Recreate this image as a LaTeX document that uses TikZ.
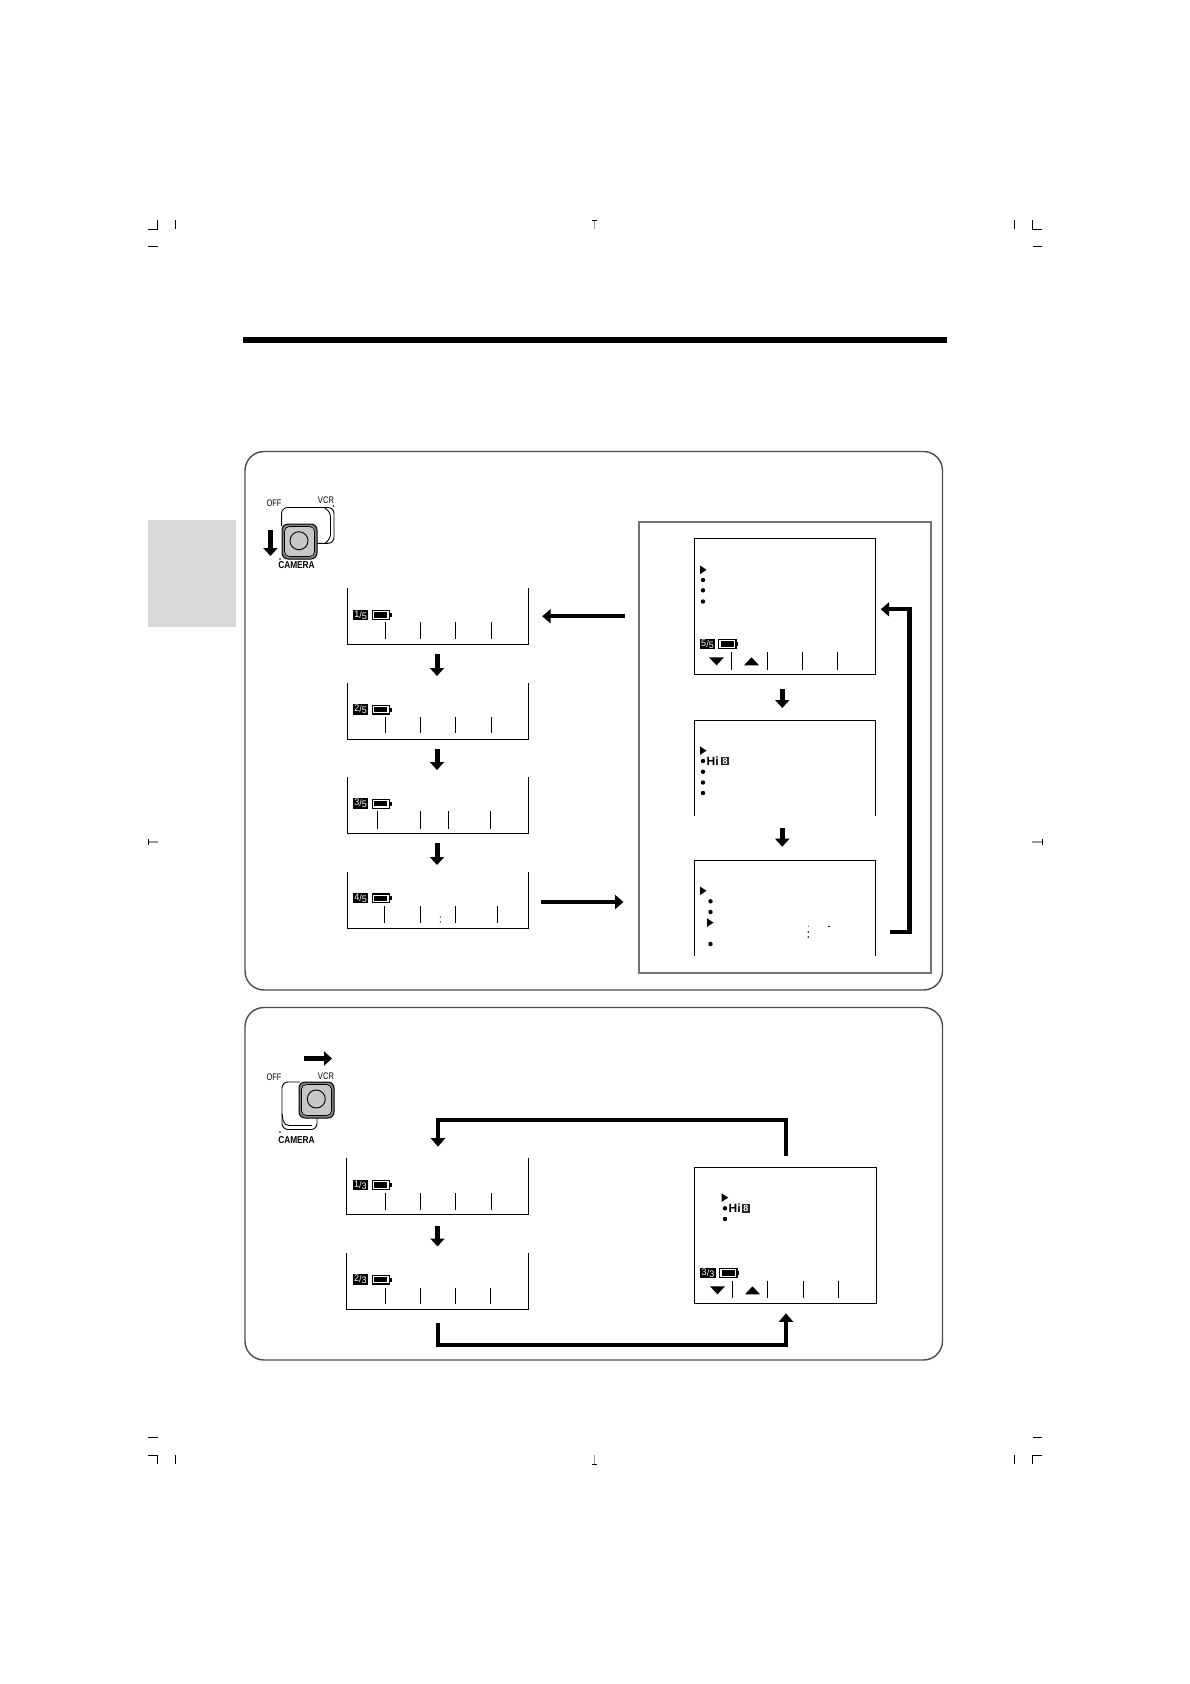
\documentclass[tikz,border=0pt]{standalone}
\usepackage{graphicx}
\usepackage{fontspec}
\setmainfont{Liberation Sans}
\usetikzlibrary{arrows.meta,calc}
\tikzset{
  cropline/.style={line width=1.1pt,black},
  cropgray/.style={line width=1.1pt,black!40},
  panel/.style={draw=black!70,line width=1.4pt,rounded corners=19pt},
  scr/.style={inner sep=0pt,outer sep=0pt,minimum width=#1},
  frameline/.style={line width=1.2pt,black},
  divider/.style={line width=1.1pt,black},
  shortarrow/.style={line width=5pt,-{Triangle[width=14pt,length=8pt]}},
  midarrow/.style={line width=4pt,-{Triangle[width=14pt,length=8.5pt]}},
  looparrow/.style={line width=4.2pt,-{Triangle[width=14pt,length=8.5pt]}},
  badge/.style={fill=black,text=white,inner sep=0pt,minimum width=15.5pt,minimum height=10.5pt,font=\fontsize{9.5}{10}\selectfont},
  switchtext/.style={inner sep=0pt,font=\fontsize{9.5}{10}\selectfont},
  camtext/.style={inner sep=0pt,font=\fontsize{10}{10}\selectfont\bfseries},
  hitext/.style={inner sep=0pt,anchor=west,font=\fontsize{12}{12}\selectfont\bfseries},
  eightbox/.style={fill=black!85,text=white,inner sep=0pt,minimum width=8.5pt,minimum height=8.5pt,anchor=west,font=\fontsize{9}{9}\selectfont\bfseries},
  switchline/.style={line width=.9pt,black},
}
\newcommand{\batt}[2]{%
  \fill[black] (#1,#2) rectangle ++(18.5,10);
  \fill[white] (#1+1.3,#2+1.3) rectangle ++(15.9,7.4);
  \fill[black] (#1+2.6,#2+2.4) rectangle ++(13.3,5.2);
  \fill[black] (#1+18.5,#2+3) rectangle ++(1.6,4);}
\newcommand{\frc}[2]{\scalebox{.95}[1]{\raisebox{1pt}{#1}/\raisebox{-1pt}{#2}}}
\newcommand{\cnd}[2]{\scalebox{#1}[1]{#2}}
\newcommand{\bullt}[2]{\fill[black] (#1,#2) circle (2.2);}
\newcommand{\tright}[2]{\fill[black] (#1,#2) -- ++(6.5,4.3) -- ++(-6.5,4.3) -- cycle;}
\newcommand{\tdown}[2]{\fill[black] (#1,#2) -- ++(15,0) -- ++(-7.5,8) -- cycle;}
\newcommand{\tup}[2]{\fill[black] (#1,#2) -- ++(15,0) -- ++(-7.5,-8) -- cycle;}
\begin{document}
\begin{tikzpicture}[x=1pt,y=-1pt]
\useasboundingbox (0,0) rectangle (1190,1684);
\fill[white] (0,0) rectangle (1190,1684);

% crop marks
\draw[cropline] (148,229.5) -- (157.5,229.5) -- (157.5,220);
\draw[cropline] (175.5,220) -- (175.5,229);
\draw[cropline] (148,246.5) -- (158,246.5);
\draw[cropline] (1042,229.5) -- (1032.5,229.5) -- (1032.5,220);
\draw[cropline] (1014.5,220) -- (1014.5,229);
\draw[cropline] (1033,246.5) -- (1042,246.5);
\draw[cropline] (148,1437.5) -- (158,1437.5);
\draw[cropline] (148,1455.5) -- (157.5,1455.5) -- (157.5,1464);
\draw[cropline] (175.5,1455) -- (175.5,1464);
\draw[cropline] (1033,1437.5) -- (1042,1437.5);
\draw[cropline] (1042,1455.5) -- (1032.5,1455.5) -- (1032.5,1464);
\draw[cropline] (1014.5,1455) -- (1014.5,1464);
\draw[cropgray] (594.5,220) -- (594.5,229);
\draw[cropline,line width=.7pt] (592,220) -- (597,220);
\draw[cropgray] (594.5,1455) -- (594.5,1464);
\draw[cropline,line width=.7pt] (592,1464) -- (597,1464);
\draw[cropgray] (148.5,842) -- (158,842);
\draw[cropline,line width=.7pt] (148.5,839) -- (148.5,845);
\draw[cropgray] (1032,842) -- (1042,842);
\draw[cropline,line width=.7pt] (1042,839) -- (1042,845);

% title rule and side tab
\fill[black] (243,336.5) rectangle (947,343);
\fill[black!15] (148,520) rectangle (236,627);

% panels
\draw[panel] (245,451.5) rectangle (942.5,990);
\draw[panel] (245,1007.5) rectangle (942.5,1360);
\node[draw=black!55,line width=2pt,inner sep=0pt,minimum width=292.5pt,minimum height=450.5pt] (rbox) at (784.75,747.5) {};

% left column screens, top panel
\node[scr=181pt,minimum height=56.5pt] (s1) at (438,616.25) {};
\node[scr=181pt,minimum height=56.5pt] (s2) at (438,711.25) {};
\node[scr=181pt,minimum height=56.5pt] (s3) at (438,805.25) {};
\node[scr=181pt,minimum height=56.5pt] (s4) at (438,900.25) {};
\foreach \n in {s1,s2,s3,s4}
  \draw[frameline] (\n.north west) -- (\n.south west) -- (\n.south east) -- (\n.north east);
\foreach \d in {385.5,420.5,455.5,491.5} \draw[divider] (\d,622) -- (\d,638.7);
\foreach \d in {385.5,420.5,455.5,491.5} \draw[divider] (\d,716.5) -- (\d,733.3);
\foreach \d in {377.5,420.5,448.5,490.5} \draw[divider] (\d,811) -- (\d,829);
\foreach \d in {384.5,420.5,455.5,497.5} \draw[divider] (\d,906) -- (\d,923);
\node[badge] (b1) at (360.7,614.8) {\frc{1}{5}};
\node[badge] (b2) at (360.7,709.3) {\frc{2}{5}};
\node[badge] (b3) at (360.7,803.6) {\frc{3}{5}};
\node[badge] (b4) at (360.7,898) {\frc{4}{5}};
\batt{371.5}{610}
\batt{371.5}{704.5}
\batt{371.5}{798.8}
\batt{371.5}{893.2}
\fill[black] (440.3,917) circle (.7) (440.3,922) circle (.7);

% short arrows
\draw[shortarrow] ($(s1.south)+(-1,9.7)$) -- ($(s2.north)+(-1,-7)$);
\draw[shortarrow] ($(s2.south)+(-1,9.7)$) -- ($(s3.north)+(-1,-7)$);
\draw[shortarrow] ($(s3.south)+(-1,9.7)$) -- ($(s4.north)+(-1,-7)$);

% right column screens
\node[scr=181pt,minimum height=136pt] (r1) at (785,606.5) {};
\node[scr=181pt,minimum height=95pt] (r2) at (785,768) {};
\node[scr=181pt,minimum height=95.5pt] (r3) at (785,908.25) {};
\draw[frameline] (r1.north west) rectangle (r1.south east);
\draw[frameline] (r2.south west) -- (r2.north west) -- (r2.north east) -- (r2.south east);
\draw[frameline] (r3.south west) -- (r3.north west) -- (r3.north east) -- (r3.south east);
\foreach \d in {731.5,767.5,802.5,837.5} \draw[divider] (\d,652) -- (\d,670);
\node[badge] (b5) at (707.5,643.8) {\frc{5}{5}};
\batt{718}{639}
\tdown{709}{657.3}
\tup{744}{665.3}
\tright{700}{565.5}
\bullt{703}{580}
\bullt{703}{590.3}
\bullt{703}{601.5}
\tright{700}{746.3}
\bullt{703}{761}
\bullt{703}{771.7}
\bullt{703}{782.5}
\bullt{703}{793}
\node[hitext] (hi1) at (706.5,761) {Hi};
\node[eightbox] (e1) at (720.7,761) {8};
\tright{700}{886.5}
\bullt{710.5}{901.3}
\bullt{710.5}{912}
\tright{707}{918.3}
\bullt{710.5}{944}
\fill[black] (808.3,926.2) circle (.5) (808.3,932) circle (.9) (808.3,937) circle (.9);
\fill[black] (827.5,925.6) rectangle (830,926.6);

\draw[shortarrow] ($(r1.south)+(-2.7,14.5)$) -- ($(r2.north)+(-2.7,-12.5)$);
\draw[shortarrow] ($(r2.south)+(-2.7,12.5)$) -- ($(r3.north)+(-2.7,-13.8)$);

% horizontal arrows, top panel
\draw[midarrow,shorten <=12.5pt,shorten >=13.7pt] (rbox.west |- s1.east) -- (s1.east);
\coordinate (s4out) at ($(s4.east)+(12.5,1.75)$);
\coordinate (rboxin) at ($(rbox.west |- s4.east)+(-14,1.75)$);
\draw[midarrow] (s4out) -- (rboxin);

% loop arrow
\coordinate (r3out) at (890,932);
\coordinate (r1in) at (880.7,609.3);
\draw[looparrow] (r3out) -- (909.5,932) -- (909.5,609.3) -- (r1in);

% switch 1
\node[switchtext] (off1) at (274,503.5) {\cnd{.78}{OFF}};
\node[switchtext] (vcr1) at (326,500) {\cnd{.8}{VCR}};
\node[camtext] (cam1) at (296.5,565.3) {\cnd{.83}{CAMERA}};
\fill[black] (333.5,506) circle (.8);
\fill[black] (280,559) circle (.8);
\draw[switchline,rounded corners=6pt] (281.6,526) -- (281.6,507.5) -- (334,507.5) -- (334,543.3) -- (316,543.3);
\draw[switchline,rounded corners=5pt] (324,507.5) -- (330.5,512) -- (330.5,539) -- (325,543.3);
\draw[black,line width=1pt,fill=black!50,rounded corners=6pt] (282,524) rectangle (317,559);
\draw[black,line width=.6pt,fill=black!22,rounded corners=5pt] (284.5,526.5) rectangle (314.5,556.5);
\draw[black,line width=.9pt] (299,540.7) circle (9);
\coordinate (arr1s) at (270.5,529.5);
\coordinate (arr1e) at (270.5,556);
\draw[shortarrow] (arr1s) -- (arr1e);

% bottom panel left screens
\node[scr=182pt,minimum height=57pt] (t1) at (437.5,1186) {};
\node[scr=182pt,minimum height=57pt] (t2) at (437.5,1281) {};
\draw[frameline] (t1.north west) -- (t1.south west) -- (t1.south east) -- (t1.north east);
\draw[frameline] (t2.north west) -- (t2.south west) -- (t2.south east) -- (t2.north east);
\foreach \d in {385.5,420.5,455.5,491.5} \draw[divider] (\d,1193) -- (\d,1209.6);
\foreach \d in {385.5,420.5,455.5,490.5} \draw[divider] (\d,1287.5) -- (\d,1304);
\node[badge] (b6) at (360.3,1185) {\frc{1}{3}};
\node[badge] (b7) at (360.3,1279.5) {\frc{2}{3}};
\batt{371.5}{1180}
\batt{371.5}{1274.5}
\draw[shortarrow] ($(t1.south)+(0,11)$) -- ($(t2.north)+(0,-6)$);

% bottom right screen
\node[scr=182pt,minimum height=136pt] (u1) at (785.5,1235.5) {};
\draw[frameline] (u1.north west) rectangle (u1.south east);
\foreach \d in {732.5,767.5,803.5,838.5} \draw[divider] (\d,1280.7) -- (\d,1297.6);
\node[badge] (b8) at (708,1273) {\frc{3}{3}};
\batt{719}{1268}
\tdown{710}{1286.3}
\tup{745}{1294.3}
\tright{721.7}{1193.3}
\bullt{725}{1208.3}
\bullt{725}{1219}
\node[hitext] (hi2) at (728.5,1208.5) {Hi};
\node[eightbox] (e2) at (741.5,1208.5) {8};

% bottom loops
\coordinate (u1topout) at (786,1155.6);
\coordinate (t1in) at (438,1146.7);
\draw[looparrow] (u1topout) -- (786,1120) -- (438,1120) -- (t1in);
\coordinate (t2out) at (438,1323);
\coordinate (u1botin) at (786,1313.3);
\draw[looparrow] (t2out) -- (438,1344.6) -- (786,1344.6) -- (u1botin);

% switch 2
\node[switchtext] (off2) at (274,1077.7) {\cnd{.78}{OFF}};
\node[switchtext] (vcr2) at (326,1076) {\cnd{.8}{VCR}};
\node[camtext] (cam2) at (296.5,1140.3) {\cnd{.83}{CAMERA}};
\fill[black] (280,1132) circle (.8);
\draw[switchline,rounded corners=6pt] (300,1082) -- (282,1082) -- (282,1129.5) -- (317,1129.5) -- (317,1117);
\draw[switchline,rounded corners=5pt] (282,1114) -- (284,1125.5) -- (312,1125.5) ;
\draw[black,line width=1pt,fill=black!50,rounded corners=6pt] (299,1082) rectangle (334,1118);
\draw[black,line width=.6pt,fill=black!22,rounded corners=5pt] (301.5,1084.5) rectangle (331.5,1115.5);
\draw[black,line width=.9pt] (316.3,1099) circle (9);
\coordinate (arr2s) at (304,1058.5);
\coordinate (arr2e) at (332,1058.5);
\draw[shortarrow] (arr2s) -- (arr2e);
\end{tikzpicture}
\end{document}
